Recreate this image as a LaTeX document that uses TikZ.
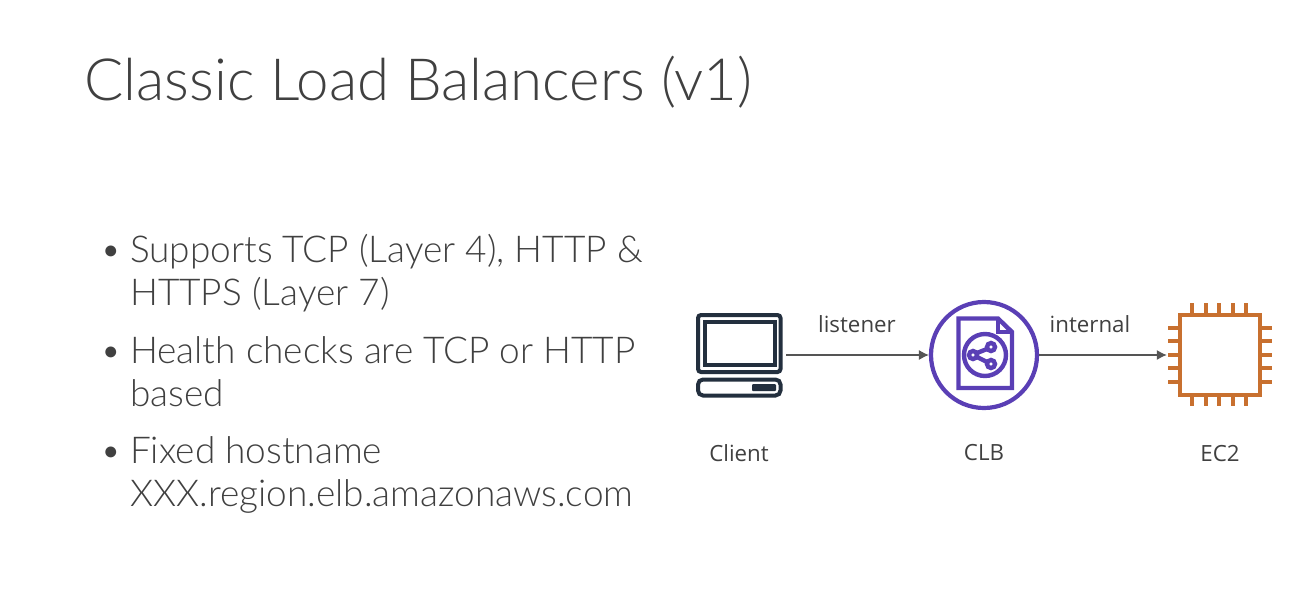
\documentclass[tikz,border=0pt]{standalone}
\usepackage{fontspec}
\setmainfont{Lato Light}
\newfontfamily\labelfont{Open Sans}
\usetikzlibrary{arrows.meta}
\definecolor{inkgrey}{HTML}{404040}
\definecolor{clientnavy}{HTML}{232F3E}
\definecolor{clbpurple}{HTML}{5A3FB5}
\definecolor{chiporange}{HTML}{C8702F}
\definecolor{linkgrey}{HTML}{555555}
\tikzset{
  titletext/.style={anchor=base west,inner sep=0pt,text=inkgrey,font=\fontsize{58.2}{62}\selectfont},
  bodytext/.style={anchor=base west,inner sep=0pt,text=inkgrey,align=left,font=\fontsize{37}{43}\selectfont},
  bulletmark/.style={anchor=base west,inner sep=0pt,text=inkgrey,font=\fontsize{37}{43}\selectfont},
  smalltext/.style={inner sep=0pt,text=inkgrey,font=\labelfont\fontsize{22.3}{26}\selectfont},
  link/.style={draw=linkgrey,line width=1.1pt,-{Latex[length=10pt,width=10pt]}},
  iconbox/.style={minimum width=#1,minimum height=#1,inner sep=0pt}
}
\begin{document}
\begin{tikzpicture}[x=1pt,y=-1pt]
  \useasboundingbox (0,0) rectangle (1302,590);
  \node[titletext] (title) at (84,100) {Classic Load Balancers (v1)};

  \node[bulletmark] (b1) at (100,262) {•};
  \node[bodytext] (t1) at (130,305) {Supports TCP (Layer 4), HTTP \&\\HTTPS (Layer 7)};
  \node[bulletmark] (b2) at (100,363) {•};
  \node[bodytext] (t2) at (130,406) {Health checks are TCP or HTTP\\based};
  \node[bulletmark] (b3) at (100,463) {•};
  \node[bodytext] (t3) at (130,506) {Fixed hostname\\XXX.region.elb.amazonaws.com};

  \node[iconbox=94pt] (client) at (739,355) {};
  \node[circle,draw=clbpurple,line width=4.2pt,minimum size=106pt,inner sep=0pt] (clb) at (984,355) {};
  \node[iconbox=106pt] (ec2) at (1220,355) {};

  % client
  \begin{scope}[draw=clientnavy,line width=4pt]
    \draw[rounded corners=3pt] (698,315) rectangle (780.5,372);
    \draw (705,322) rectangle (774.5,365);
    \draw[rounded corners=5pt] (698,379.5) rectangle (780.5,395.5);
    \fill[clientnavy,rounded corners=1pt] (752,384) rectangle (776,391);
  \end{scope}

  % clb
  \begin{scope}[draw=clbpurple,line width=4.4pt,line join=miter]
    \draw (958.5,318.5) -- (998,318.5) -- (1012,332) -- (1012,388) -- (958.5,388) -- cycle;
    \draw (998,318.5) -- (998,332) -- (1012,332);
    \draw (985,355) circle (21);
    \draw (973,355) circle (4);
    \draw (991,347) circle (4);
    \draw (991,364) circle (4);
    \draw (976.5,353.2) -- (987.5,348.8);
    \draw (976.5,356.8) -- (987.5,362.2);
  \end{scope}

  % ec2
  \begin{scope}[draw=chiporange,line width=4.6pt]
    \draw (1180,315) rectangle (1260,395);
    \foreach \i in {1192,1206,1219,1233,1246} {
      \draw (\i,303) -- (\i,315);
      \draw (\i,395) -- (\i,406);
    }
    \foreach \j in {328,341,355,368,382} {
      \draw (1168,\j) -- (1180,\j);
      \draw (1260,\j) -- (1272,\j);
    }
  \end{scope}

  \draw[link] (client) -- (clb);
  \draw[link] (clb) -- (ec2);

  \node[smalltext] (lsn) at (857,324) {listener};
  \node[smalltext] (int) at (1090,324) {internal};
  \node[smalltext] (clientlabel) at (739,453) {Client};
  \node[smalltext] (clblabel) at (984,453) {CLB};
  \node[smalltext] (ec2label) at (1220,454) {EC2};
\end{tikzpicture}
\end{document}
